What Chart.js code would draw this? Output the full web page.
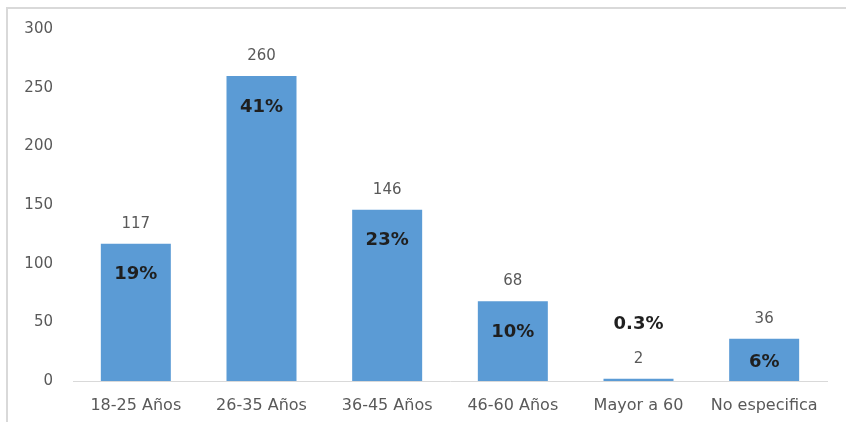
<!DOCTYPE html>
<html><head><meta charset="utf-8">
<script src="https://cdn.jsdelivr.net/npm/chart.js@4.4.1/dist/chart.umd.min.js"></script>
<style>
html,body{margin:0;padding:0;background:#fff;}
#wrap{position:relative;width:846px;height:422px;}
#frame{position:absolute;left:6px;top:7px;right:0;bottom:0;border-left:2px solid #d9d9d9;border-top:2px solid #d9d9d9;pointer-events:none;}
canvas{display:block;}
</style></head>
<body>
<div id="wrap"><canvas id="c" width="846" height="422"></canvas><div id="frame"></div></div>
<script>
const categories = ["18-25 Años","26-35 Años","36-45 Años","46-60 Años","Mayor a 60","No especifica"];
const counts = [117, 260, 146, 68, 2, 36];
const percents = ["19%","41%","23%","10%","0.3%","6%"];
const yTicks = [0, 50, 100, 150, 200, 250, 300];

const FONT = "'DejaVu Sans', 'Open Sans', sans-serif";

const labelPlugin = {
  id: 'labels',
  afterDatasetsDraw(chart) {
    const ctx = chart.ctx;
    const meta = chart.getDatasetMeta(0);
    const base = chart.scales.y.getPixelForValue(0);
    ctx.save();
    ctx.textAlign = 'center';
    ctx.textBaseline = 'middle';
    meta.data.forEach((bar, i) => {
      const top = bar.y;
      const h = base - top;
      ctx.font = "15px " + FONT;
      ctx.fillStyle = '#595959';
      ctx.fillText(String(counts[i]), bar.x, top - 20);
      ctx.font = "bold 18px " + FONT;
      ctx.fillStyle = '#1f1f1f';
      let py;
      if (h < 20) py = top - 54;
      else py = top + Math.min(31, h / 2 + 2);
      ctx.fillText(percents[i], bar.x, py);
    });
    ctx.restore();
  }
};

new Chart(document.getElementById('c'), {
  type: 'bar',
  data: {
    labels: categories,
    datasets: [{
      data: counts,
      backgroundColor: '#5B9BD5',
      borderWidth: 0,
      categoryPercentage: 1.0,
      barPercentage: 0.557
    }]
  },
  options: {
    responsive: false,
    animation: false,
    devicePixelRatio: 1,
    layout: { padding: { left: 0, right: 19, top: 29, bottom: 0 } },
    plugins: { legend: { display: false }, tooltip: { enabled: false } },
    scales: {
      x: {
        grid: { display: false, drawTicks: false },
        border: { display: true, color: '#d9d9d9', width: 1 },
        ticks: { color: '#595959', font: { family: FONT, size: 16 }, padding: 15, maxRotation: 0, autoSkip: false },
        afterFit(s) { s.height = 41; }
      },
      y: {
        min: 0, max: 300,
        afterBuildTicks(s) { s.ticks = yTicks.map(v => ({ value: v })); },
        grid: { display: false, drawTicks: false },
        border: { display: false },
        ticks: { color: '#595959', font: { family: FONT, size: 15 }, padding: 20 },
        afterFit(s) { s.width = 73; }
      }
    }
  },
  plugins: [labelPlugin]
});
</script>
</body></html>
